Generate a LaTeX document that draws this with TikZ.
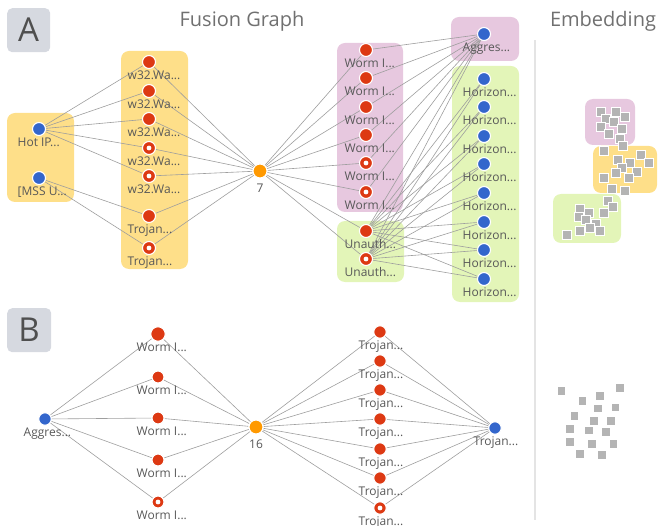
\documentclass[tikz,border=0pt]{standalone}
\usepackage{fontspec}
\setmainfont{Open Sans}
\definecolor{nred}{RGB}{221,57,19}
\definecolor{nblue}{RGB}{51,102,204}
\definecolor{norange}{RGB}{255,153,0}
\definecolor{gyellow}{RGB}{254,223,137}
\definecolor{gpink}{RGB}{231,200,223}
\definecolor{ggreen}{RGB}{227,245,184}
\definecolor{edgec}{RGB}{158,158,158}
\definecolor{txt}{RGB}{88,88,88}
\definecolor{titlec}{RGB}{112,112,112}
\definecolor{panelc}{RGB}{214,217,224}
\definecolor{sqc}{RGB}{180,180,180}
\definecolor{sepc}{RGB}{228,228,228}
\pgfdeclarelayer{boxes}
\pgfdeclarelayer{edges}
\pgfsetlayers{boxes,edges,main}
\tikzset{
  dot/.style={circle, draw=white, line width=1.1pt, inner sep=0pt, minimum size=13pt},
  rn/.style={dot, fill=nred},
  rh/.style={rn, path picture={\fill[white] (path picture bounding box.center) circle (2.4pt);}},
  bn/.style={dot, fill=nblue},
  onode/.style={dot, fill=norange, minimum size=14pt},
  lbl/.style={anchor=base west, font=\fontsize{12}{14}\selectfont, text=txt, inner sep=0pt},
  numlbl/.style={anchor=base, font=\fontsize{12}{14}\selectfont, text=txt, inner sep=0pt},
  conn/.style={draw=edgec, line width=0.6pt},
  grp/.style={rounded corners=8pt},
  sq/.style={rectangle, fill=sqc, draw=white, line width=0.6pt, minimum size=9pt, inner sep=0pt},
  title/.style={anchor=base, font=\fontsize{20}{24}\selectfont, text=titlec, inner sep=0pt},
  panel/.style={rounded corners=5pt, fill=panelc},
  panelletter/.style={font=\fontsize{33}{36}\selectfont, text=txt!90!black, inner sep=0pt}
}
\newcommand{\lab}[3]{\node[lbl] (#1-l) at ([xshift=-21.5pt,yshift=-17.5pt]#1.center) {#3};}
\begin{document}
\begin{tikzpicture}[x=1pt,y=-1pt]
\useasboundingbox (0,0) rectangle (660,526);
% panel letters and titles
\node[panel, minimum width=43pt, minimum height=44pt, anchor=north west] (pa) at (7,8) {};
\node[panelletter] (pal) at (28.5,30) {A};
\node[panel, minimum width=44pt, minimum height=44pt, anchor=north west] (pb) at (7,308) {};
\node[panelletter] (pbl) at (29,330) {B};
\node[title] (t1) at (242,27) {Fusion Graph};
\node[title] (t2) at (603,27) {Embedding};
\draw[sepc, line width=1.3pt] (535,40) coordinate (s1) -- (535,520) coordinate (s2);
% groups
\begin{pgfonlayer}{boxes}
\fill[gyellow, grp] (7,113) rectangle (74,202);
\fill[gyellow, grp] (121,51) rectangle (188,269);
\fill[gpink, grp] (337,43) rectangle (403,212);
\fill[ggreen, grp] (337,221) rectangle (404,282);
\fill[gpink, grp] (451,17) rectangle (519,61);
\fill[ggreen, grp] (452,66) rectangle (519,302);
\fill[gpink, grp] (585,99) rectangle (635,145);
\fill[gyellow, grp] (593,146) rectangle (657,193);
\fill[ggreen, grp] (553,194) rectangle (621,243);
\end{pgfonlayer}
% ---------- panel A nodes
\node[bn] (hot) at (39,129) {};
\node[bn] (mss) at (39,178) {};
\node[rn] (w1) at (149,62) {};
\node[rn] (w2) at (149,91) {};
\node[rn] (w3) at (149,119) {};
\node[rh] (w4) at (149,148) {};
\node[rh] (w5) at (149,176) {};
\node[rn] (t1) at (149,216) {};
\node[rh] (t2) at (149,248) {};
\node[onode] (c7) at (260,171) {};
\node[rn] (m1) at (366,50) {};
\node[rn] (m2) at (366,78) {};
\node[rn] (m3) at (366,107) {};
\node[rn] (m4) at (366,135) {};
\node[rh] (m5) at (366,163) {};
\node[rh] (m6) at (366,192) {};
\node[rn] (u1) at (366,231) {};
\node[rh] (u2) at (366,259) {};
\node[bn] (ag) at (484,34) {};
\foreach \i/\y in {1/79,2/107,3/136,4/164,5/193,6/222,7/250,8/279}
  \node[bn] (h\i) at (484,\y) {};
% labels A
\lab{hot}{}{Hot IP...}
\lab{mss}{}{[MSS U...}
\foreach \n in {w1,w2,w3,w4,w5} {\lab{\n}{}{w32.Wa...}}
\lab{t1}{}{Trojan...}
\lab{t2}{}{Trojan...}
\node[numlbl] (c7-l) at ([yshift=-21.5pt]c7.center) {7};
\foreach \n in {m1,m2,m3,m4,m5,m6} {\lab{\n}{}{Worm I...}}
\lab{u1}{}{Unauth...}
\lab{u2}{}{Unauth...}
\lab{ag}{}{Aggres...}
\foreach \i in {1,...,8} {\lab{h\i}{}{Horizon...}}
% edges A
\begin{pgfonlayer}{edges}
\foreach \n in {w1,w2,w3,w4,w5} \draw[conn] (hot) -- (\n);
\draw[conn] (mss) -- (t1);
\draw[conn] (mss) -- (t2);
\foreach \n in {w1,w2,w3,w4,w5,t1,t2} \draw[conn] (\n) -- (c7);
\foreach \n in {m1,m2,m3,m4,m5,m6,u1,u2} \draw[conn] (c7) -- (\n);
\foreach \n in {m1,m2,m3,m4,m5,m6,u1,u2} \draw[conn] (\n) -- (ag);
\foreach \i in {1,...,8} {\draw[conn] (u1) -- (h\i); \draw[conn] (u2) -- (h\i);}
\end{pgfonlayer}
% ---------- panel B
\node[bn, minimum size=12.5pt] (bag) at (45,419) {};
\node[rn, minimum size=14.5pt] (bw1) at (158,334) {};
\node[rn, minimum size=12pt] (bw2) at (158,377) {};
\node[rn, minimum size=12pt] (bw3) at (158,418) {};
\node[rn, minimum size=12pt] (bw4) at (158,460) {};
\node[rh, minimum size=12pt] (bw5) at (158,502) {};
\node[onode] (c16) at (256,427) {};
\foreach \i/\y in {1/332,2/361,3/390,4/419,5/449,6/478}
  \node[rn, minimum size=12.5pt] (bt\i) at (380,\y) {};
\node[rh, minimum size=12.5pt] (bt7) at (380,508) {};
\node[bn, minimum size=12.5pt] (btr) at (495,428) {};
\lab{bag}{}{Aggres...}
\foreach \n in {bw1,bw2,bw3,bw4,bw5} {\lab{\n}{}{Worm I...}}
\node[numlbl] (c16-l) at ([yshift=-21.5pt]c16.center) {16};
\foreach \i in {1,...,7} {\lab{bt\i}{}{Trojan...}}
\lab{btr}{}{Trojan...}
\begin{pgfonlayer}{edges}
\foreach \n in {bw1,bw2,bw3,bw4,bw5} {\draw[conn] (bag) -- (\n); \draw[conn] (\n) -- (c16);}
\foreach \i in {1,...,7} {\draw[conn] (c16) -- (bt\i); \draw[conn] (bt\i) -- (btr);}
\end{pgfonlayer}
% ---------- embedding squares
\foreach \x/\y [count=\k] in {600.7/111.7,615.7/111.7,605.3/119,624.7/117.3,614/121.7,600.7/126.7,621.3/129,608.7/134,619.3/138.7,622.7/146,604/150.7,640.3/155,617.3/160,629.3/162.7,648.3/163.3,621.7/168.3,636.3/172.3,615.7/172.7,628.3/178.3,604/178.3,611.3/188.7,624.3/191,608/200.7,612.7/206.7,604/213.3,579.3/209.3,588.7/213.3,578.3/217.3,586/220,596/224,589.3/227.7,579.3/230.7,599.3/231.3,566.7/235}
  \node[sq] (ea\k) at (\x,\y) {};
\foreach \x/\y [count=\k] in {561.3/390.7,582.3/400.7,600/395.7,620/387.7,597.7/408.3,615.3/407.3,574.3/416,594/421,611/421,570/428.7,588.7/430.3,605.7/432,570/441.7,591.7/443.7,613.3/443.7,580/453.7,601.7/454.7}
  \node[sq, minimum size=8.5pt] (eb\k) at (\x,\y) {};
\end{tikzpicture}
\end{document}
